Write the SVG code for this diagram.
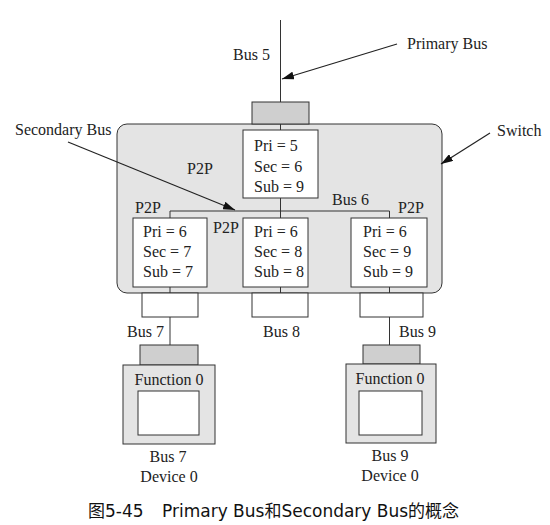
<svg xmlns="http://www.w3.org/2000/svg" width="550" height="525" viewBox="0 0 550 525">
<defs>
<style>
.t{font-family:"Liberation Serif","Times New Roman",serif;font-size:16px;fill:#222}
.c{font-family:"DejaVu Sans","Noto Sans CJK SC",sans-serif;font-size:17px;fill:#111}
.ln{stroke:#333;stroke-width:1;fill:none}
.box{fill:#fff;stroke:#333;stroke-width:1}
.port{fill:#cfcfcf;stroke:#333;stroke-width:1}
.wport{fill:#fff;stroke:#333;stroke-width:1}
.gray{fill:#e4e4e4;stroke:#333;stroke-width:1}
.ptr{stroke:#222;stroke-width:1.2;fill:none;marker-end:url(#ah)}
</style>
<marker id="ah" viewBox="0 0 12 8" refX="12" refY="4" markerWidth="12" markerHeight="8" markerUnits="userSpaceOnUse" orient="auto">
<path d="M0,0 L12,4 L0,8 z" fill="#111"/>
</marker>
</defs>
<rect width="550" height="525" fill="#fff"/>

<g id="switch">
<rect class="gray" x="117" y="124" width="325" height="169" rx="10" ry="10" stroke-width="1.3"/>
<rect class="port" x="252" y="102" width="57" height="22"/>
<rect class="wport" x="142" y="293" width="56" height="24"/>
<rect class="wport" x="252" y="293" width="56" height="24"/>
<rect class="wport" x="360" y="293" width="63" height="24"/>
</g>

<g id="connectors">
<line class="ln" x1="280.5" y1="20" x2="280.5" y2="102"/>
<line class="ln" x1="280.5" y1="124" x2="280.5" y2="130"/>
<line class="ln" x1="280.5" y1="198" x2="280.5" y2="218"/>
<polyline class="ln" points="170,218 170,211 389.5,211 389.5,218"/>
<line class="ln" x1="170" y1="287" x2="170" y2="293"/>
<line class="ln" x1="280.5" y1="287" x2="280.5" y2="293"/>
<line class="ln" x1="389.5" y1="287" x2="389.5" y2="293"/>
<line class="ln" x1="170" y1="317" x2="170" y2="345"/>
<line class="ln" x1="389.5" y1="317" x2="389.5" y2="345"/>
<line class="ptr" x1="397" y1="44" x2="282" y2="79"/>
<line class="ptr" x1="490" y1="133" x2="441" y2="164"/>
<line class="ptr" x1="68" y1="142" x2="235" y2="210"/>
</g>

<g id="bridge-top">
<rect class="box" x="243" y="130" width="75" height="68"/>
<text class="t" x="254" y="151">Pri = 5</text>
<text class="t" x="254" y="172">Sec = 6</text>
<text class="t" x="254" y="192">Sub = 9</text>
</g>
<g id="bridge-7">
<rect class="box" x="133" y="218" width="74" height="69"/>
<text class="t" x="143" y="237">Pri = 6</text>
<text class="t" x="143" y="257">Sec = 7</text>
<text class="t" x="143" y="277">Sub = 7</text>
</g>
<g id="bridge-8">
<rect class="box" x="243" y="218" width="65" height="69"/>
<text class="t" x="254" y="237">Pri = 6</text>
<text class="t" x="254" y="257">Sec = 8</text>
<text class="t" x="254" y="277">Sub = 8</text>
</g>
<g id="bridge-9">
<rect class="box" x="351" y="218" width="76" height="69"/>
<text class="t" x="363" y="237">Pri = 6</text>
<text class="t" x="363" y="257">Sec = 9</text>
<text class="t" x="363" y="277">Sub = 9</text>
</g>

<g id="device-7">
<rect class="port" x="140" y="345" width="58" height="20"/>
<rect class="gray" x="123" y="365" width="92" height="79"/>
<rect class="box" x="138" y="391" width="61" height="44"/>
<text class="t" x="169" y="385" text-anchor="middle">Function 0</text>
<text class="t" x="168" y="462" text-anchor="middle">Bus 7</text>
<text class="t" x="169" y="482" text-anchor="middle">Device 0</text>
</g>
<g id="device-9">
<rect class="port" x="363" y="345" width="57" height="19"/>
<rect class="gray" x="346" y="364" width="90" height="79"/>
<rect class="box" x="359" y="391" width="63" height="44"/>
<text class="t" x="390" y="384" text-anchor="middle">Function 0</text>
<text class="t" x="390" y="461" text-anchor="middle">Bus 9</text>
<text class="t" x="390" y="481" text-anchor="middle">Device 0</text>
</g>

<g id="labels">
<text class="t" x="233" y="60">Bus 5</text>
<text class="t" x="407" y="49">Primary Bus</text>
<text class="t" x="497" y="136">Switch</text>
<text class="t" x="15" y="135">Secondary Bus</text>
<text class="t" x="187" y="174">P2P</text>
<text class="t" x="135" y="213">P2P</text>
<text class="t" x="213" y="233">P2P</text>
<text class="t" x="398" y="213">P2P</text>
<text class="t" x="332" y="205">Bus 6</text>
<text class="t" x="127" y="337">Bus 7</text>
<text class="t" x="263" y="337">Bus 8</text>
<text class="t" x="399" y="337">Bus 9</text>
</g>

<g id="caption">
<text class="c" x="88" y="517">图5-45</text>
<text class="c" x="162" y="517">Primary Bus和Secondary Bus的概念</text>
</g>
</svg>
